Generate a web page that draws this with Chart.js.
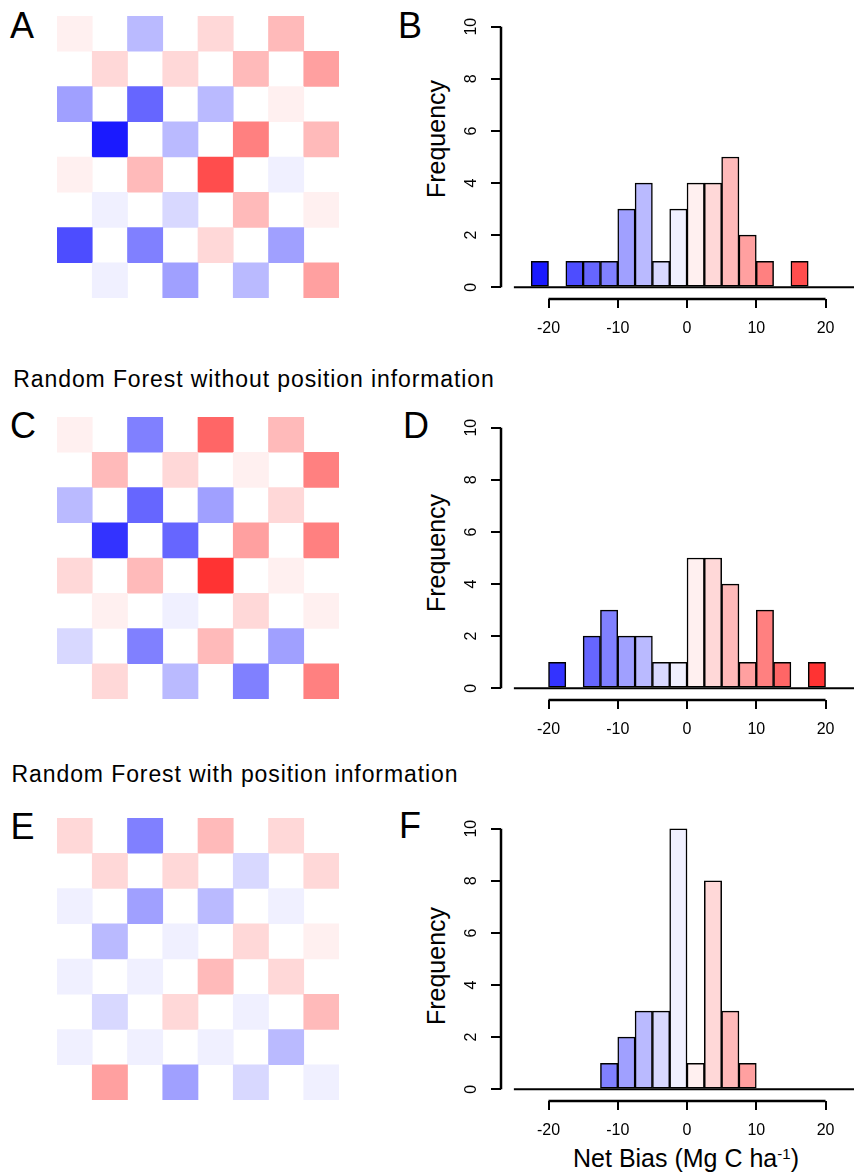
<!DOCTYPE html>
<html>
<head>
<meta charset="utf-8">
<script src="https://cdn.jsdelivr.net/npm/chart.js@4.4.1/dist/chart.umd.min.js"></script>
<style>
  html, body { margin: 0; padding: 0; background: #fff; }
  body { position: relative; width: 854px; height: 1174px; overflow: hidden; font-family: "Liberation Sans", Arial, sans-serif; color: #000; }
  canvas, .txt { position: absolute; }
  .tag { font-size: 36px; line-height: 1; }
  .heading { font-size: 23px; letter-spacing: 0.9px; line-height: 1; white-space: nowrap; }
  .ylab { font-size: 25px; line-height: 1; white-space: nowrap; transform: translate(-50%, -50%) rotate(-90deg); }
  .xlab { font-size: 25px; line-height: 1; white-space: nowrap; transform: translateX(-50%); }
  .xlab sup { font-size: 0.6em; vertical-align: 0.55em; line-height: 0; }
</style>
</head>
<body>
<div class="txt tag" style="left:10px;top:7.5px">A</div>
<div class="txt tag" style="left:398px;top:7.5px">B</div>
<div class="txt heading" style="left:13.3px;top:368.2px">Random Forest without position information</div>
<div class="txt tag" style="left:10px;top:408px">C</div>
<div class="txt tag" style="left:403px;top:408px">D</div>
<div class="txt heading" style="left:11.6px;top:762.8px">Random Forest with position information</div>
<div class="txt tag" style="left:10.5px;top:809px">E</div>
<div class="txt tag" style="left:399px;top:808px">F</div>

<div class="txt ylab" style="left:436px;top:139px">Frequency</div>
<div class="txt ylab" style="left:436px;top:552.5px">Frequency</div>
<div class="txt ylab" style="left:436px;top:966px">Frequency</div>
<div class="txt xlab" style="left:686px;top:1146px">Net Bias (Mg C ha<sup>-1</sup>)</div>

<canvas id="gridA" width="282" height="282" style="left:57px;top:16px"></canvas>
<canvas id="histB" width="474" height="345" style="left:380px;top:0px"></canvas>
<canvas id="gridC" width="282" height="282" style="left:57px;top:417px"></canvas>
<canvas id="histD" width="474" height="345" style="left:380px;top:401px"></canvas>
<canvas id="gridE" width="282" height="282" style="left:57px;top:818px"></canvas>
<canvas id="histF" width="474" height="345" style="left:380px;top:802px"></canvas>

<script>
/**
 * Histogram classes (net bias, Mg C/ha), 2.5 wide.
 * @type {number[]}
 */
const BIN_WIDTH = 2.5;
const binCenters = [-21.25, -18.75, -16.25, -13.75, -11.25, -8.75, -6.25, -3.75, -1.25,
  1.25, 3.75, 6.25, 8.75, 11.25, 13.75, 16.25, 18.75];

// Frequencies per class for each model.
const countsB = [1, 0, 1, 1, 1, 3, 4, 1, 3, 4, 4, 5, 2, 1, 0, 1, 0];
const countsD = [0, 1, 0, 2, 3, 2, 2, 1, 1, 5, 5, 4, 1, 3, 1, 0, 1];
const countsF = [0, 0, 0, 0, 1, 2, 3, 3, 10, 1, 8, 3, 1, 0, 0, 0, 0];

const xTicks = [-20, -10, 0, 10, 20];
const yTicks = [0, 2, 4, 6, 8, 10];

// Checkerboard maps: net bias per cell, null = cell not sampled (white).
const columns = ["1", "2", "3", "4", "5", "6", "7", "8"];
const _ = null;
const gridA = [
  [1.25, _, -6.25, _, 3.75, _, 6.25, _],
  [_, 3.75, _, 3.75, _, 6.25, _, 8.75],
  [-8.75, _, -13.75, _, -6.25, _, 1.25, _],
  [_, -21.25, _, -6.25, _, 11.25, _, 6.25],
  [1.25, _, 6.25, _, 16.25, _, -1.25, _],
  [_, -1.25, _, -3.75, _, 6.25, _, 1.25],
  [-16.25, _, -11.25, _, 3.75, _, -8.75, _],
  [_, -1.25, _, -8.75, _, -6.25, _, 8.75],
];
const gridC = [
  [1.25, _, -11.25, _, 13.75, _, 6.25, _],
  [_, 6.25, _, 3.75, _, 1.25, _, 11.25],
  [-6.25, _, -13.75, _, -8.75, _, 3.75, _],
  [_, -18.75, _, -13.75, _, 8.75, _, 11.25],
  [3.75, _, 6.25, _, 18.75, _, 1.25, _],
  [_, 1.25, _, -1.25, _, 3.75, _, 1.25],
  [-3.75, _, -11.25, _, 6.25, _, -8.75, _],
  [_, 3.75, _, -6.25, _, -11.25, _, 11.25],
];
const gridE = [
  [3.75, _, -11.25, _, 6.25, _, 3.75, _],
  [_, 3.75, _, 3.75, _, -3.75, _, 3.75],
  [-1.25, _, -8.75, _, -6.25, _, -1.25, _],
  [_, -6.25, _, -1.25, _, 3.75, _, 1.25],
  [-1.25, _, -1.25, _, 6.25, _, 3.75, _],
  [_, -3.75, _, 3.75, _, -1.25, _, 6.25],
  [-1.25, _, -1.25, _, -1.25, _, -6.25, _],
  [_, 8.75, _, -8.75, _, -3.75, _, -1.25],
];

/** Blue-white-red ramp, one shade per class away from zero. */
const SHADES = ["F0", "D8", "BA", "A0", "80", "66", "4D", "33", "1A"];

// Plot region of the histograms (R usr limits).
const X_MIN = -26.86;
const X_MAX = 24.11;
const Y_MIN = -0.45;
const Y_MAX = 10.45;

const FONT = "'Liberation Sans', Arial, sans-serif";
Chart.defaults.font.family = FONT;
const tickFont = { family: FONT, size: 16 };

/**
 * Colour of a bias value.
 * @param {number} v
 * @returns {string}
 */
function biasColor(v) {
  const k = Math.min(Math.ceil(Math.abs(v) / BIN_WIDTH), SHADES.length) - 1;
  const s = SHADES[k];
  return v < 0 ? `#${s}${s}FF` : `#FF${s}${s}`;
}

/**
 * Black line dataset through two points.
 * @param {Array<{x:number,y:number}>} data
 * @param {boolean} clip - clip to the plot region or not
 * @param {number} width
 */
function blackLine(data, clip, width) {
  return { type: "line", data, borderColor: "#000", borderWidth: width, pointRadius: 0, clip, order: 1 };
}

/**
 * Checkerboard of cell biases as floating bars.
 * @param {string} id
 * @param {Array<Array<number|null>>} grid
 */
function createCheckerboard(id, grid) {
  const rows = grid.length;
  const cells = [];
  grid.forEach((row, r) => {
    row.forEach((v, c) => {
      if (v !== null) cells.push({ x: columns[c], y: [rows - 1 - r, rows - r], v });
    });
  });

  new Chart(document.getElementById(id), {
    type: "bar",
    data: {
      labels: columns,
      datasets: [{
        data: cells,
        backgroundColor: (ctx) => biasColor(ctx.raw.v),
        borderWidth: 0,
        barPercentage: 1,
        categoryPercentage: 1,
      }],
    },
    options: {
      responsive: false,
      animation: false,
      layout: { padding: 0 },
      plugins: { legend: { display: false }, tooltip: { enabled: false } },
      scales: {
        x: { display: false },
        y: { display: false, min: 0, max: rows },
      },
    },
  });
}

/**
 * Histogram of net bias, with R-style axes.
 * @param {string} id
 * @param {number[]} counts
 */
function createHistogram(id, counts) {
  const xEnds = [xTicks[0], xTicks[xTicks.length - 1]];
  const yEnds = [yTicks[0], yTicks[yTicks.length - 1]];

  new Chart(document.getElementById(id), {
    type: "bar",
    data: {
      datasets: [
        {
          type: "bar",
          data: binCenters.map((x, i) => ({ x, y: counts[i] })),
          backgroundColor: binCenters.map(biasColor),
          borderColor: "#000",
          borderWidth: 1.5,
          borderSkipped: false,
          barPercentage: 1,
          categoryPercentage: 1,
          order: 0,
        },
        // baseline at zero
        blackLine([{ x: -25, y: 0 }, { x: 25, y: 0 }], true, 2),
        // axis lines, first to last tick
        blackLine(xEnds.map((x) => ({ x, y: Y_MIN })), false, 2.5),
        blackLine(yEnds.map((y) => ({ x: X_MIN, y })), false, 2.5),
      ],
    },
    options: {
      responsive: false,
      animation: false,
      layout: { padding: { top: 15, left: 0, right: 0, bottom: 0 } },
      plugins: { legend: { display: false }, tooltip: { enabled: false } },
      scales: {
        x: {
          type: "linear",
          min: X_MIN,
          max: X_MAX,
          offset: false,
          border: { display: false },
          grid: { display: true, offset: false, drawOnChartArea: false, drawTicks: true, tickLength: 9, color: "#000", lineWidth: 2 },
          ticks: { font: tickFont, color: "#000", padding: 11, autoSkip: false, maxRotation: 0 },
          afterBuildTicks: (s) => { s.ticks = xTicks.map((value) => ({ value })); },
          afterFit: (s) => { s.height = 46; s.paddingLeft = 0; s.paddingRight = 0; },
        },
        y: {
          min: Y_MIN,
          max: Y_MAX,
          border: { display: false },
          grid: { display: true, drawOnChartArea: false, drawTicks: true, tickLength: 10, color: "#000", lineWidth: 2 },
          ticks: { font: tickFont, color: "#000", padding: 11, minRotation: 90, maxRotation: 90, crossAlign: "center", autoSkip: false },
          afterBuildTicks: (s) => { s.ticks = yTicks.map((value) => ({ value })); },
          afterFit: (s) => { s.width = 121; s.paddingTop = 0; s.paddingBottom = 0; },
        },
      },
    },
  });
}

createCheckerboard("gridA", gridA);
createHistogram("histB", countsB);
createCheckerboard("gridC", gridC);
createHistogram("histD", countsD);
createCheckerboard("gridE", gridE);
createHistogram("histF", countsF);
</script>
</body>
</html>
